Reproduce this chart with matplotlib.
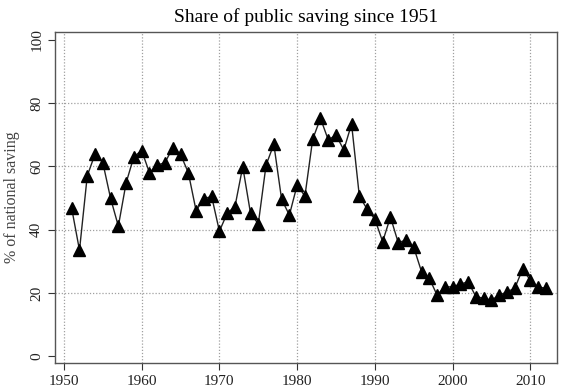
import matplotlib
matplotlib.use("Agg")
import matplotlib.pyplot as plt

# Share of public saving in national saving, 1951-2012 (%)
years = list(range(1951, 2013))
share = [46.7, 33.5, 57.0, 63.9, 61.2, 49.9, 41.1, 54.8, 63.1, 65.0,
         58.0, 60.4, 61.2, 65.9, 63.8, 58.0, 46.0, 49.8, 50.5, 39.5,
         45.2, 47.3, 59.9, 45.2, 41.8, 60.4, 67.0, 49.6, 44.6, 54.1,
         50.6, 68.6, 75.2, 68.4, 69.9, 65.2, 73.4, 50.6, 46.5, 43.3,
         36.2, 44.0, 35.9, 36.7, 34.4, 26.7, 24.6, 19.3, 21.9, 21.9,
         22.8, 23.5, 18.8, 18.3, 17.7, 19.3, 20.3, 21.5, 27.5, 24.0,
         21.8, 21.5]

x_ticks = [1950, 1960, 1970, 1980, 1990, 2000, 2010]
y_ticks = [0, 20, 40, 60, 80, 100]
y_grid = [20, 40, 60, 80]

plt.rcParams['font.family'] = ['Liberation Serif', 'DejaVu Serif']

fig = plt.figure(figsize=(5.67, 3.9), dpi=100)
ax = fig.add_axes([0.097, 0.069, 0.885, 0.849])

grid_kw = dict(color='#a0a0a0', linestyle=(0, (1, 1.5)), linewidth=0.9, zorder=0)
for xv in x_ticks:
    ax.axvline(xv, **grid_kw)
for yv in y_grid:
    ax.axhline(yv, **grid_kw)

ax.plot(years, share, color='#222222', linewidth=1.0, marker='^',
        markersize=8.5, markerfacecolor='black', markeredgecolor='black', zorder=3)

ax.set_xlim(1948.85, 2013.4)
ax.set_ylim(-2.2, 102.5)
ax.set_xticks(x_ticks)
ax.set_yticks(y_ticks)
ax.tick_params(axis='both', direction='out', length=5, width=0.8, colors='#333333',
               labelsize=11, labelcolor='#222222')
for lab in ax.get_yticklabels():
    lab.set_rotation(90)
    lab.set_va('center')

for sp in ax.spines.values():
    sp.set_color('#555555')
    sp.set_linewidth(1.0)

ax.set_ylabel('% of national saving', fontsize=11.5, color='#444444', labelpad=7)
ax.set_title('Share of public saving since 1951', fontsize=14, pad=7)

fig.savefig('out.png', dpi=100)
